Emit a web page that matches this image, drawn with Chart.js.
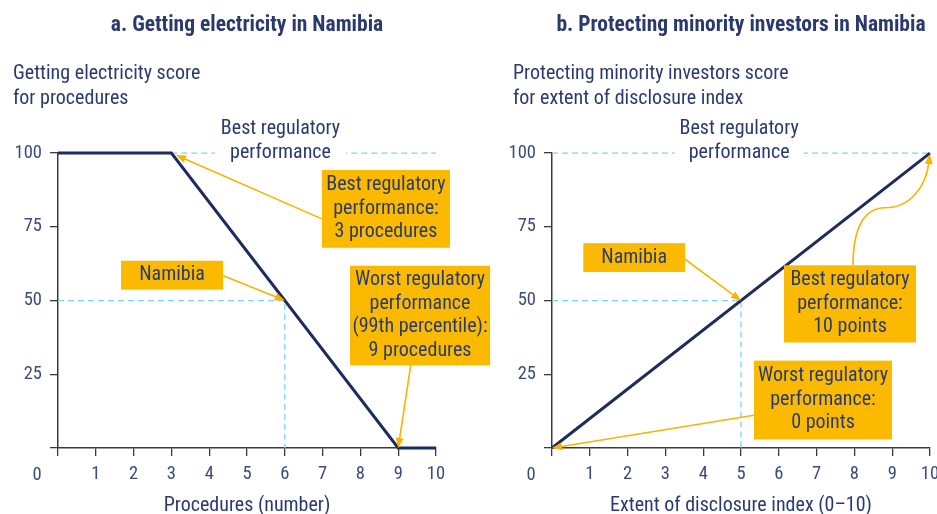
<!DOCTYPE html>
<html><head><meta charset="utf-8">
<script src="https://cdn.jsdelivr.net/npm/chart.js@4.4.1/dist/chart.umd.min.js"></script>
<style>
html,body{margin:0;padding:0;overflow:hidden;background:#fff;width:937px;height:514px}
#wa{position:absolute;left:0;top:0;width:500px;height:514px}
#wb{position:absolute;left:470px;top:0;width:480px;height:514px}
</style></head><body>
<div id="wa"><canvas id="ca"></canvas></div>
<div id="wb"><canvas id="cb"></canvas></div>
<script>
// ---------- data ----------
const xTickValues = [0, 1, 2, 3, 4, 5, 6, 7, 8, 9, 10];
const yTickValues = [0, 25, 50, 75, 100];

// Panel a: getting electricity
const elecProcedures = [0, 3, 9, 10];
const elecScore = [100, 100, 0, 0];
const bestProcedures = 3;
const worstProcedures = 9;
const namibiaProcedures = 6;
const namibiaElecScore = 50;

// Panel b: protecting minority investors
const disclosureIndex = [0, 10];
const disclosureScore = [0, 100];
const bestDisclosure = 10;
const worstDisclosure = 0;
const namibiaDisclosure = 5;
const namibiaDiscScore = 50;

const titleA = 'a. Getting electricity in Namibia';
const titleB = 'b. Protecting minority investors in Namibia';
const yTitleA = ['Getting electricity score', 'for procedures'];
const yTitleB = ['Protecting minority investors score', 'for extent of disclosure index'];
const xTitleA = 'Procedures (number)';
const xTitleB = 'Extent of disclosure index (0\u201310)';
const bestLabel = ['Best regulatory', 'performance'];

// ---------- styles ----------
const FAM = "'Roboto Condensed', 'Open Sans', sans-serif";
const TEXT = '#2a3a6e';
const TICKC = '#3c4b7e';
const SERIES = '#1d2b5f';
const GUIDE = '#7fd3f6';
const BOX = '#fbba00';
const ARROW = '#f6b500';
const AXIS = '#3a3a3a';
const TXT_SIZE = 20;
const TICK_SIZE = 18.5;

Chart.defaults.font.family = FAM;

const annotPlugin = {
  id: 'annot',
  afterLayout(chart) {
    // let the y tick labels extend left of the scale box without being clipped
    chart.scales.y.left = 0;
  },
  afterDatasetsDraw(chart, args, o) {
    const ctx = chart.ctx, xs = chart.scales.x, ys = chart.scales.y;
    const X = v => xs.getPixelForValue(v), Y = v => ys.getPixelForValue(v);
    ctx.save();
    ctx.font = TXT_SIZE + 'px ' + FAM;
    ctx.textAlign = 'center';
    ctx.textBaseline = 'middle';
    // "Best regulatory performance" label sitting on the 100 guide
    const bl = o.bestLabel;
    const w = ctx.measureText(bl.lines[1]).width;
    ctx.fillStyle = '#fff';
    ctx.fillRect(X(bl.x) - w / 2 - bl.gap, Y(bl.y) - 3, w + 2 * bl.gap, 6);
    ctx.fillStyle = TEXT;
    ctx.fillText(bl.lines[0], X(bl.x), Y(bl.y) - 24);
    ctx.fillText(bl.lines[1], X(bl.x), Y(bl.y));
    // arrows
    ctx.strokeStyle = ARROW; ctx.fillStyle = ARROW; ctx.lineWidth = 1.6;
    o.arrows.forEach(a => {
      const p = a.path.map(q => [X(q[0]), Y(q[1])]);
      const n = p.length;
      let ex = p[n - 1][0], ey = p[n - 1][1];
      const px = p[n - 2][0], py = p[n - 2][1];
      const L = Math.hypot(ex - px, ey - py);
      const ux = (ex - px) / L, uy = (ey - py) / L;
      ex -= ux * (a.gap || 0); ey -= uy * (a.gap || 0);
      const hl = 10, hw = 4;
      const bx = ex - ux * hl, by = ey - uy * hl;
      ctx.beginPath();
      ctx.moveTo(p[0][0], p[0][1]);
      if (n === 2) {
        ctx.lineTo(bx + ux * 2, by + uy * 2);
      } else {
        for (let i = 1; i + 2 < n; i += 3) {
          const last = (i + 2 === n - 1);
          ctx.bezierCurveTo(p[i][0], p[i][1], p[i + 1][0], p[i + 1][1],
            last ? bx + ux * 2 : p[i + 2][0], last ? by + uy * 2 : p[i + 2][1]);
        }
      }
      ctx.stroke();
      ctx.beginPath();
      ctx.moveTo(ex, ey);
      ctx.lineTo(bx - uy * hw, by + ux * hw);
      ctx.lineTo(bx + uy * hw, by - ux * hw);
      ctx.closePath();
      ctx.fill();
    });
    // boxes
    o.boxes.forEach(b => {
      const x1 = X(b.x[0]), x2 = X(b.x[1]), y1 = Y(b.y[1]), y2 = Y(b.y[0]);
      ctx.fillStyle = BOX;
      ctx.fillRect(x1, y1, x2 - x1, y2 - y1);
      ctx.fillStyle = TEXT;
      const cx = (x1 + x2) / 2, cy = (y1 + y2) / 2 + (b.dy || 0);
      const lh = 23.5;
      b.lines.forEach((t, i) => {
        ctx.fillText(t, cx, cy + (i - (b.lines.length - 1) / 2) * lh);
      });
    });
    // shared origin label
    ctx.font = TICK_SIZE + 'px ' + FAM;
    ctx.fillStyle = TICKC;
    ctx.fillText('0', X(0) - 21, Y(0) + 27);
    ctx.restore();
  }
};

function makeChart(id, cfg) {
  const pts = cfg.xs.map((x, i) => ({ x: x, y: cfg.ys[i] }));
  const dash = { borderColor: GUIDE, borderWidth: 1.3, borderDash: [6, 4], pointRadius: 0, clip: false, fill: false };
  return new Chart(document.getElementById(id), {
    type: 'line',
    data: {
      datasets: [
        { data: pts, borderColor: SERIES, borderWidth: 3, pointRadius: 0, clip: false, fill: false,
          borderJoinStyle: 'miter', tension: 0 },
        Object.assign({ data: cfg.guideTop }, dash),
        Object.assign({ data: cfg.guideNam }, dash)
      ]
    },
    options: {
      responsive: true,
      maintainAspectRatio: false,
      animation: false,
      events: [],
      layout: { padding: { left: cfg.padL, right: cfg.padR, top: 0, bottom: 0 } },
      plugins: {
        legend: { display: false },
        tooltip: { enabled: false },
        title: {
          display: true, text: cfg.title, fullSize: false, color: TEXT,
          font: { family: FAM, size: 21.5, weight: 'bold', lineHeight: 1.2 },
          padding: { top: 12.4, bottom: 23.4 }
        },
        subtitle: {
          display: true, text: cfg.yTitle, align: 'start', fullSize: true, color: TEXT,
          font: { family: FAM, size: TXT_SIZE, lineHeight: '25px' },
          padding: { top: 0, bottom: 41.5 }
        },
        annot: cfg.annot
      },
      scales: {
        x: {
          type: 'linear', min: 0, max: 10,
          afterBuildTicks: s => { s.ticks = xTickValues.map(v => ({ value: v })); },
          afterFit: s => { s.height = 66; },
          ticks: { color: TICKC, font: { family: FAM, size: TICK_SIZE }, padding: 7,
                   callback: v => (v === 0 ? '' : String(v)), maxRotation: 0, autoSkip: false },
          grid: { drawOnChartArea: false, drawTicks: true, tickLength: 8, color: AXIS, lineWidth: 1.3 },
          border: { display: true, color: AXIS, width: 1.5 },
          title: { display: true, text: cfg.xTitle, color: TEXT,
                   font: { family: FAM, size: TXT_SIZE, lineHeight: 0.8 }, padding: { top: 0, bottom: 0 } }
        },
        y: {
          type: 'linear', min: 0, max: 100,
          afterBuildTicks: s => { s.ticks = yTickValues.map(v => ({ value: v })); },
          afterFit: s => { s.width = cfg.yW; },
          ticks: { color: TICKC, font: { family: FAM, size: TICK_SIZE }, padding: 8,
                   callback: v => (v === 0 ? '' : String(v)), autoSkip: false },
          grid: { drawOnChartArea: false, drawTicks: true, tickLength: 8, color: AXIS, lineWidth: 1.3 },
          border: { display: true, color: AXIS, width: 1.5 }
        }
      }
    },
    plugins: [annotPlugin]
  });
}

makeChart('ca', {
  xs: elecProcedures, ys: elecScore,
  guideTop: [{ x: bestProcedures, y: 100 }, { x: 10, y: 100 }],
  guideNam: [{ x: 0, y: namibiaElecScore }, { x: namibiaProcedures, y: namibiaElecScore }, { x: namibiaProcedures, y: 0 }],
  title: titleA, yTitle: yTitleA, xTitle: xTitleA,
  padL: 13, padR: 64, yW: 45,
  annot: {
    bestLabel: { lines: bestLabel, x: 5.886, y: 100, gap: 15 },
    arrows: [
      { path: [[6.98, 77.7], [bestProcedures, 100]], gap: 5 },
      { path: [[4.36, 58.5], [namibiaProcedures, namibiaElecScore]], gap: 0 },
      { path: [[9.33, 28.0], [worstProcedures, 0]], gap: 0 }
    ],
    boxes: [
      { x: [6.98, 10.37], y: [67.9, 94.26], lines: ['Best regulatory', 'performance:', '3 procedures'] },
      { x: [1.667, 4.365], y: [53.7, 63.5], lines: ['Namibia'] },
      { x: [7.725, 11.43], y: [28.04, 61.82], lines: ['Worst regulatory', 'performance', '(99th percentile):', '9 procedures'] }
    ]
  }
});

makeChart('cb', {
  xs: disclosureIndex, ys: disclosureScore,
  guideTop: [{ x: 0, y: 100 }, { x: 10, y: 100 }],
  guideNam: [{ x: 0, y: namibiaDiscScore }, { x: namibiaDisclosure, y: namibiaDiscScore }, { x: namibiaDisclosure, y: 0 }],
  title: titleB, yTitle: yTitleB, xTitle: xTitleB,
  padL: 43, padR: 20, yW: 39,
  annot: {
    bestLabel: { lines: bestLabel, x: 4.95, y: 100, gap: 14 },
    arrows: [
      { path: [[3.519, 64.0], [namibiaDisclosure, namibiaDiscScore]], gap: 0 },
      { path: [[7.963, 61.95], [7.963, 75.08], [8.28, 81.48], [8.81, 81.48], [9.47, 81.48], [9.894, 88.55], [bestDisclosure, 100]], gap: 1 },
      { path: [[5.344, 11.11], [worstDisclosure, 0]], gap: 0 }
    ],
    boxes: [
      { x: [0.828, 3.519], y: [59.7, 69.46], lines: ['Namibia'] },
      { x: [6.138, 9.63], y: [35.79, 61.95], lines: ['Best regulatory', 'performance:', '10 points'] },
      { x: [5.344, 8.995], y: [2.93, 29.63], lines: ['Worst regulatory', 'performance:', '0 points'] }
    ]
  }
});
</script>
</body></html>
